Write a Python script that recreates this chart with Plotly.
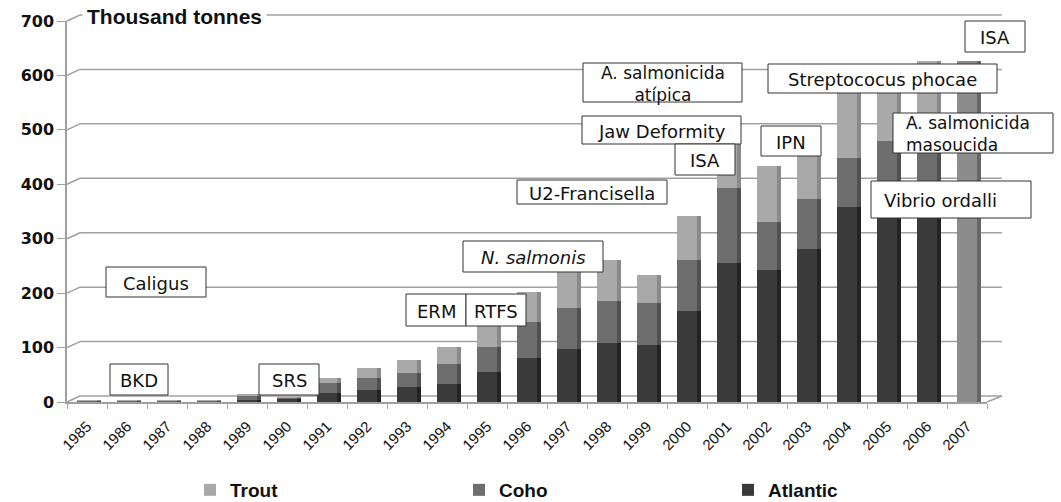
import plotly.graph_objects as go

# Salmon and trout harvest, thousand tonnes
years = [str(y) for y in range(1985, 2008)]
atlantic = [0.5, 0.5, 0.5, 0.5, 4, 7, 16, 22, 28, 33, 55, 80, 97, 109, 104, 167, 256, 242, 281, 358, 385, 380, 0]
coho = [2, 2.5, 2.5, 2.5, 8, 1, 19, 23, 26, 36, 46, 67, 75, 76, 77, 94, 137, 88, 92, 91, 95, 110, 0]
trout = [0.5, 0.5, 0.5, 0.5, 3, 1, 9, 18, 23, 32, 41, 55, 68, 76, 52, 81, 114, 104, 119, 126, 120, 136, 0]
# last year only reported as a total
unsplit_total = [0] * 22 + [626]

y_ticks = [0, 100, 200, 300, 400, 500, 600, 700]

W, H = 1061, 502
M_L, M_R, M_T, M_B = 67, 74, 21, 100
PW, PH = W - M_L - M_R, H - M_T - M_B
Y_MAX = 700

# depth of the 3D wall, in pixels
DX, DY = 13, 6

series = [
    ("Atlantic", atlantic, "#3a3a3a", "#222222"),
    ("Coho", coho, "#6e6e6e", "#505050"),
    ("Trout", trout, "#a9a9a9", "#8a8a8a"),
]

idx = list(range(len(years)))
fig = go.Figure()
for name, vals, front, side in series:
    fig.add_trace(go.Bar(x=idx, y=vals, name=name, marker_color=front,
                         marker_line_width=0, width=0.5))
fig.add_trace(go.Bar(x=idx, y=unsplit_total, name="Total", marker_color="#8c8c8c",
                     marker_line_width=0, width=0.5, showlegend=False))
# right-hand side faces of the bars
for name, vals, front, side in series:
    fig.add_trace(go.Bar(x=idx, y=vals, marker_color=side, marker_line_width=0,
                         width=0.11, offset=0.25, xaxis="x2", showlegend=False,
                         hoverinfo="skip"))
fig.add_trace(go.Bar(x=idx, y=unsplit_total, marker_color="#666666", marker_line_width=0,
                     width=0.11, offset=0.25, xaxis="x2", showlegend=False,
                     hoverinfo="skip"))


def px_x(p):
    return (p - M_L) / PW


def px_y(p):
    return (H - M_B - p) / PH


shapes = []
ddx = DX / PW
ddy = DY / PH
wall = dict(color="#a0a0a0", width=1.5)
for v in y_ticks:
    yp = v / Y_MAX
    shapes.append(dict(type="line", xref="paper", yref="paper", x0=ddx, x1=1 + ddx + 0.002,
                       y0=yp + ddy, y1=yp + ddy, line=wall, layer="below"))
    shapes.append(dict(type="line", xref="paper", yref="paper", x0=0, x1=ddx,
                       y0=yp, y1=yp + ddy, line=wall, layer="below"))
# right edge of the floor
shapes.append(dict(type="line", xref="paper", yref="paper", x0=1, x1=1 + ddx + 0.002,
                   y0=0, y1=ddy, line=wall, layer="below"))

labels = [
    # text, left, top, right, bottom, align
    ("Caligus", 106, 267, 206, 297, "center"),
    ("BKD", 110, 364, 168, 395, "center"),
    ("SRS", 259, 364, 319, 395, "center"),
    ("ERM", 406, 294, 466, 326, "center"),
    ("RTFS", 466, 294, 526, 326, "center"),
    ("<i>N. salmonis</i>", 463, 241, 603, 272, "center"),
    ("U2-Francisella", 517, 180, 667, 204, "center"),
    ("A. salmonicida<br>atípica", 583, 63, 742, 102, "center"),
    ("Jaw Deformity", 582, 116, 741, 144, "center"),
    ("ISA", 675, 144, 735, 175, "center"),
    ("IPN", 761, 126, 821, 156, "center"),
    ("Streptococus phocae", 768, 64, 997, 93, "center"),
    ("ISA", 965, 21, 1025, 52, "center"),
    ("A. salmonicida<br>masoucida", 893, 113, 1053, 153, "left"),
    ("Vibrio ordalli", 871, 181, 1031, 218, "left"),
]
annotations = []
for text, l, t, r, b, al in labels:
    shapes.append(dict(type="rect", xref="paper", yref="paper",
                       x0=px_x(l), x1=px_x(r), y0=px_y(b), y1=px_y(t),
                       fillcolor="white", line=dict(color="#333333", width=1),
                       layer="above"))
    size = 17 if "<br>" in text else 18
    if al == "left":
        ax, xa = l + 12, "left"
    else:
        ax, xa = (l + r) / 2, "center"
    annotations.append(dict(
        text=text, xref="paper", yref="paper", x=px_x(ax), y=px_y((t + b) / 2 + 1),
        xanchor=xa, yanchor="middle", align=al, showarrow=False, borderpad=0,
        font=dict(family="DejaVu Sans", size=size, color="#111111")))

annotations.append(dict(
    text="<b>Thousand tonnes</b>", xref="paper", yref="paper", x=px_x(82), y=px_y(17),
    xanchor="left", yanchor="middle", showarrow=False, bgcolor="white", borderpad=4,
    font=dict(family="Liberation Sans", size=21, color="#111111")))

fig.update_layout(
    width=W, height=H,
    margin=dict(l=M_L, r=M_R, t=M_T, b=M_B, autoexpand=False),
    paper_bgcolor="white", plot_bgcolor="rgba(0,0,0,0)",
    barmode="stack", bargap=0.5,
    showlegend=True,
    legend=dict(orientation="h", xref="container", yref="container",
                x=190 / W, y=1 - 490 / H, xanchor="left", yanchor="middle",
                traceorder="reversed", entrywidth=224, entrywidthmode="pixels",
                font=dict(family="Liberation Sans", size=19, color="#111111", weight="bold")),
    xaxis=dict(range=[-0.5, len(years) - 0.5], tickvals=idx, ticktext=years,
               tickangle=-45, ticks="", showgrid=False, zeroline=False, automargin=False,
               showline=True, linecolor="#a0a0a0", linewidth=1.5, ticklabelstandoff=8,
               tickfont=dict(family="Liberation Sans", size=15, color="#111111"),
               minor=dict(tick0=-0.5, dtick=1, ticks="outside", ticklen=5,
                          tickcolor="#a0a0a0", showgrid=False)),
    xaxis2=dict(range=[-0.5, len(years) - 0.5], overlaying="x", visible=False),
    yaxis=dict(range=[0, Y_MAX], tickvals=y_ticks, showgrid=False, zeroline=False,
               automargin=False,
               showline=True, linecolor="#a0a0a0", linewidth=1.5,
               ticks="outside", ticklen=8, tickcolor="#a0a0a0",
               tickfont=dict(family="DejaVu Sans", size=16, color="#111111", weight="bold")),
    shapes=shapes,
    annotations=annotations,
)

fig.write_html("out.html")
